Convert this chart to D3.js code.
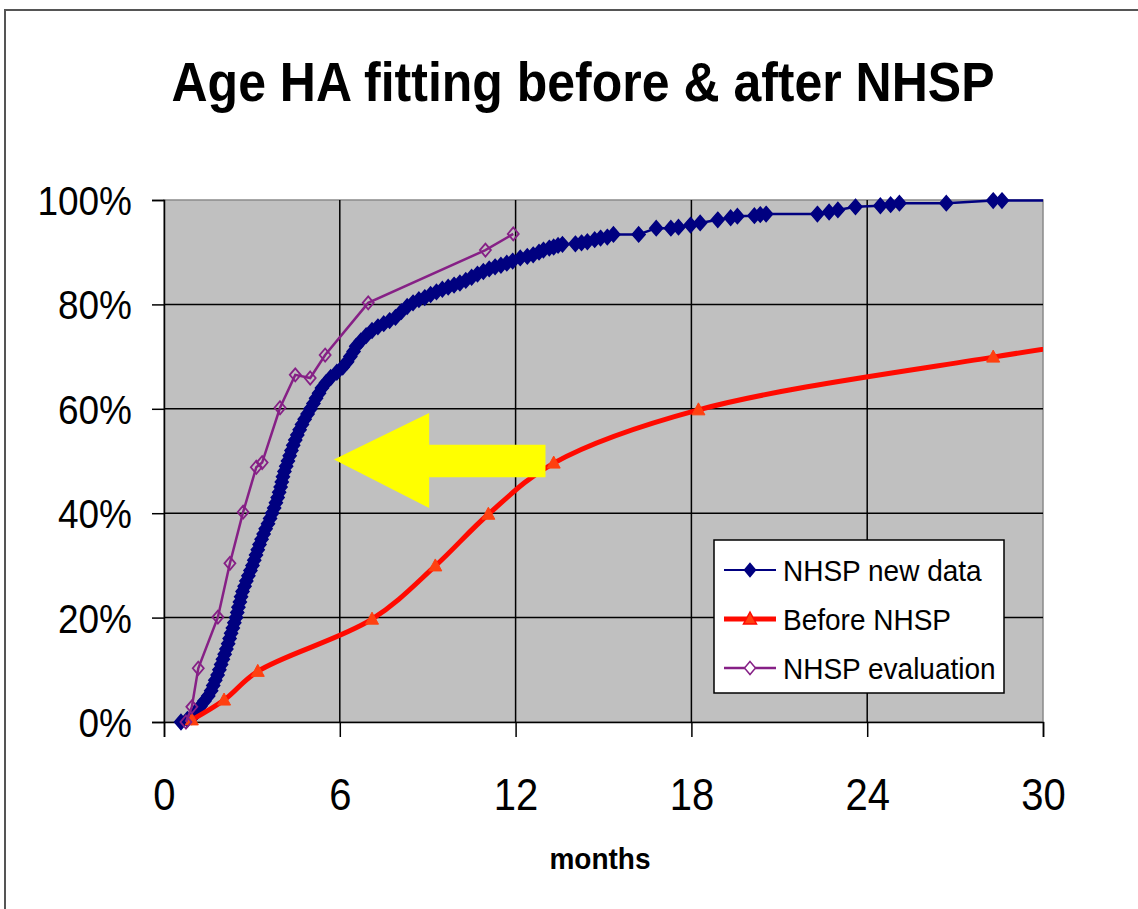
<!DOCTYPE html>
<html lang="en">
<head>
<meta charset="UTF-8">
<title>Age HA fitting before & after NHSP</title>
<style>
  body { margin: 0; padding: 0; background: #fff; }
  svg { display: block; font-family: 'Liberation Sans', Arial, sans-serif; }
</style>
</head>
<body>
<div id="chart"></div>
<script src="https://cdn.jsdelivr.net/npm/d3@7/dist/d3.min.js"></script>
<script>
// ---- data (months, cumulative %) ----
const xTicks = [0, 6, 12, 18, 24, 30];
const yTicks = [0, 20, 40, 60, 80, 100];

// NHSP new data: one point per child
const nhspNew = [
  [0.58,0],[0.8,0.5],[0.95,1],[1.05,1.5],[1.12,2],[1.24,3],[1.38,4],[1.51,5],[1.61,6],[1.68,7],
  [1.75,8],[1.83,9],[1.89,10],[1.95,11],[2.01,12],[2.07,13],[2.13,14],[2.19,15],[2.24,16],[2.29,17],
  [2.35,18],[2.40,19],[2.46,20],[2.50,21],[2.54,22],[2.59,23],[2.63,24],[2.68,25],[2.75,26],[2.81,27],
  [2.88,28],[2.95,29],[3.02,30],[3.08,31],[3.14,32],[3.20,33],[3.26,34],[3.33,35],[3.40,36],[3.47,37],
  [3.55,38],[3.62,39],[3.69,40],[3.76,41],[3.82,42],[3.88,43],[3.93,44],[3.98,45],[4.02,46],[4.06,47],
  [4.11,48],[4.17,49],[4.23,50],[4.29,51],[4.35,52],[4.41,53],[4.48,54],[4.55,55],[4.63,56],[4.71,57],
  [4.80,58],[4.90,59],[5.00,60],[5.10,61],[5.19,62],[5.29,63],[5.39,64],[5.53,65],[5.69,66],[5.90,67],
  [6.10,68],[6.25,69],[6.36,70],[6.47,71],[6.56,72],[6.72,73],[6.90,74],[7.10,75],[7.3,75.7],[7.5,76.3],
  [7.7,76.9],[7.9,77.5],[8.1,78.6],[8.3,79.6],[8.5,80.3],[8.7,80.9],[8.9,81.3],[9.1,81.9],[9.3,82.4],[9.5,82.9],
  [9.7,83.3],[9.9,83.7],[10.1,84.1],[10.3,84.6],[10.5,85.2],[10.7,85.8],[10.9,86.3],[11.1,86.8],[11.3,87.2],[11.5,87.5],
  [11.7,87.9],[11.9,88.3],[12.16,88.9],[12.4,89.2],[12.6,89.5],[12.8,90.0],[12.95,90.4],[13.15,90.8],[13.3,91.0],[13.45,91.3],
  [13.6,91.5],[14.04,91.6],[14.25,91.8],[14.45,92.0],[14.7,92.4],[14.9,92.7],[15.13,92.9],[15.34,93.4],[16.2,93.4],[16.8,94.6],
  [17.3,94.6],[17.56,94.8],[17.97,95.2],[18.3,95.6],[18.9,96.2],[19.34,96.6],[19.57,96.9],[20.15,97.0],[20.35,97.2],[20.55,97.3],
  [22.3,97.3],[22.7,97.7],[23.0,98.1],[23.6,98.7],[24.45,98.9],[24.8,99.1],[25.1,99.4],[26.7,99.4],[28.3,99.9],[28.6,99.9],
  [31,99.9]
];

// Before NHSP
const beforeNhsp = [
  [0.95,0.4],[2.05,4.2],[3.2,9.7],[7.1,19.7],[9.26,29.9],[11.07,39.8],[13.3,49.6],[18.24,59.8],[28.3,69.9],[35,75.5]
];

// NHSP evaluation
const nhspEval = [
  [0.75,0],[0.95,2.9],[1.17,10.3],[1.84,20.1],[2.25,30.4],[2.7,40.2],[3.15,48.8],[3.35,49.7],
  [3.96,60.2],[4.48,66.5],[4.99,65.9],[5.5,70.3],[6.97,80.3],[10.97,90.4],[11.92,93.5]
];

const seriesNames = ["NHSP new data", "Before NHSP", "NHSP evaluation"];

// yellow arrow outline, in months / %
const arrowShape = [
  [5.8,50.3],[9.05,59.2],[9.05,53.1],[13.02,53.1],[13.02,46.9],[9.05,46.9],[9.05,41.0]
];

// ---- chart ----
const width = 1138, height = 909;
const svg = d3.select("#chart").append("svg")
    .attr("width", width)
    .attr("height", height);

svg.append("rect").attr("width", width).attr("height", height).attr("fill", "#fff");
// outer frame (runs off right and bottom)
svg.append("rect")
    .attr("x", 5).attr("y", 10).attr("width", 1300).attr("height", 1100)
    .attr("fill", "none").attr("stroke", "#555").attr("stroke-width", 2);

const x = d3.scaleLinear().domain([0, 30]).range([164, 1043]);
const y = d3.scaleLinear().domain([0, 100]).range([722, 200]);

// plot area
svg.append("rect")
    .attr("x", x(0)).attr("y", y(100))
    .attr("width", x(30) - x(0)).attr("height", y(0) - y(100))
    .attr("fill", "#c0c0c0").attr("stroke", "#8a8a8a").attr("stroke-width", 1.5);

// grid
svg.append("g").selectAll("line")
    .data(yTicks.filter(d => d > 0 && d < 100))
    .enter().append("line")
    .attr("x1", x(0)).attr("x2", x(30))
    .attr("y1", d => y(d)).attr("y2", d => y(d))
    .attr("stroke", "#000").attr("stroke-width", 1.5);
svg.append("g").selectAll("line")
    .data(xTicks.filter(d => d > 0 && d < 30))
    .enter().append("line")
    .attr("x1", d => x(d)).attr("x2", d => x(d))
    .attr("y1", y(0)).attr("y2", y(100))
    .attr("stroke", "#000").attr("stroke-width", 1.5);

// axes
const yAxis = svg.append("g")
    .attr("transform", `translate(${x(0)},0)`)
    .call(d3.axisLeft(y).tickValues(yTicks).tickFormat(d => d + "%").tickSize(12).tickPadding(20));
const xAxis = svg.append("g")
    .attr("transform", `translate(0,${y(0)})`)
    .call(d3.axisBottom(x).tickValues(xTicks).tickSize(15));
[yAxis, xAxis].forEach(a => {
    a.select(".domain").attr("stroke", "#000").attr("stroke-width", 1.5);
    a.selectAll(".tick line").attr("stroke", "#000").attr("stroke-width", 1.5);
    a.selectAll("text").attr("fill", "#000").attr("font-family", "'Liberation Sans', Arial, sans-serif");
});
// the original text is a little taller than it is wide
yAxis.selectAll("text").attr("font-size", 37)
    .attr("x", 0).attr("dy", "0.35em")
    .attr("transform", "translate(-32,0) scale(1,1.12)");
xAxis.selectAll("text").attr("font-size", 40)
    .attr("y", 0).attr("dy", 0)
    .attr("transform", "translate(0,88) scale(1,1.12)");

// clip series at the right edge of the plot
svg.append("clipPath").attr("id", "plotClip")
  .append("rect")
    .attr("x", x(0) - 20).attr("y", y(100) - 20)
    .attr("width", x(30) - x(0) + 20).attr("height", y(0) - y(100) + 40);

const series = svg.append("g").attr("clip-path", "url(#plotClip)");

const line = d3.line().x(d => x(d[0])).y(d => y(d[1]));
const smooth = d3.line().x(d => x(d[0])).y(d => y(d[1])).curve(d3.curveCatmullRom.alpha(0.5));

const bigDiamond = "M0,-7.5L6.5,0L0,7.5L-6.5,0Z";
const diamond = "M0,-6.5L5.5,0L0,6.5L-5.5,0Z";
const triangle = "M0,-7L6.5,5L-6.5,5Z";

// NHSP new data
series.append("path").datum(nhspNew)
    .attr("d", line).attr("fill", "none").attr("stroke", "#000080").attr("stroke-width", 2.5);
series.append("g").selectAll("path")
    .data(nhspNew).enter().append("path")
    .attr("transform", d => `translate(${x(d[0])},${y(d[1])})`)
    .attr("d", bigDiamond).attr("fill", "#000080").attr("stroke", "#000080").attr("stroke-width", 1.5);

// Before NHSP
series.append("path").datum(beforeNhsp)
    .attr("d", smooth).attr("fill", "none").attr("stroke", "#ff0a00").attr("stroke-width", 5);
series.append("g").selectAll("path")
    .data(beforeNhsp).enter().append("path")
    .attr("transform", d => `translate(${x(d[0])},${y(d[1])})`)
    .attr("d", triangle).attr("fill", "#ff4010").attr("stroke", "#ff4010").attr("stroke-width", 1);

// NHSP evaluation
series.append("path").datum(nhspEval)
    .attr("d", line).attr("fill", "none").attr("stroke", "#862086").attr("stroke-width", 2.5);
series.append("g").selectAll("path")
    .data(nhspEval).enter().append("path")
    .attr("transform", d => `translate(${x(d[0])},${y(d[1])})`)
    .attr("d", diamond).attr("fill", "none").attr("stroke", "#862086").attr("stroke-width", 1.8);

// yellow arrow
svg.append("path").datum(arrowShape)
    .attr("d", d3.line().x(d => x(d[0])).y(d => y(d[1])).curve(d3.curveLinearClosed))
    .attr("fill", "#ffff00").attr("stroke", "none");

// legend
const legend = svg.append("g").attr("transform", "translate(714,540)");
legend.append("rect").attr("width", 290).attr("height", 153)
    .attr("fill", "#fff").attr("stroke", "#000").attr("stroke-width", 1.5);
const styles = [
    { color: "#000080", width: 2, mark: diamond, fill: "#000080" },
    { color: "#ff0a00", width: 5, mark: triangle, fill: "#ff4010" },
    { color: "#862086", width: 2.5, mark: diamond, fill: "#fff" }
];
const item = legend.selectAll(".item")
    .data(seriesNames).enter().append("g")
    .attr("transform", (d, i) => `translate(0,${30 + i * 49})`);
item.append("line").attr("x1", 10).attr("x2", 62)
    .attr("stroke", (d, i) => styles[i].color).attr("stroke-width", (d, i) => styles[i].width);
item.append("path").attr("transform", "translate(36,0)")
    .attr("d", (d, i) => styles[i].mark)
    .attr("fill", (d, i) => styles[i].fill).attr("stroke", (d, i) => styles[i].color).attr("stroke-width", 1.5);
item.append("text").attr("transform", "translate(69,0) scale(1,1.08)").attr("dy", "0.36em")
    .attr("font-size", 28).attr("fill", "#000").text(d => d);

// titles
svg.append("text").attr("transform", "translate(583,101) scale(1,1.1)").attr("text-anchor", "middle")
    .attr("font-size", 50).attr("font-weight", "bold").text("Age HA fitting before & after NHSP");
svg.append("text").attr("transform", "translate(600,869) scale(1,1.08)").attr("text-anchor", "middle")
    .attr("font-size", 28).attr("font-weight", "bold").text("months");
</script>
</body>
</html>
